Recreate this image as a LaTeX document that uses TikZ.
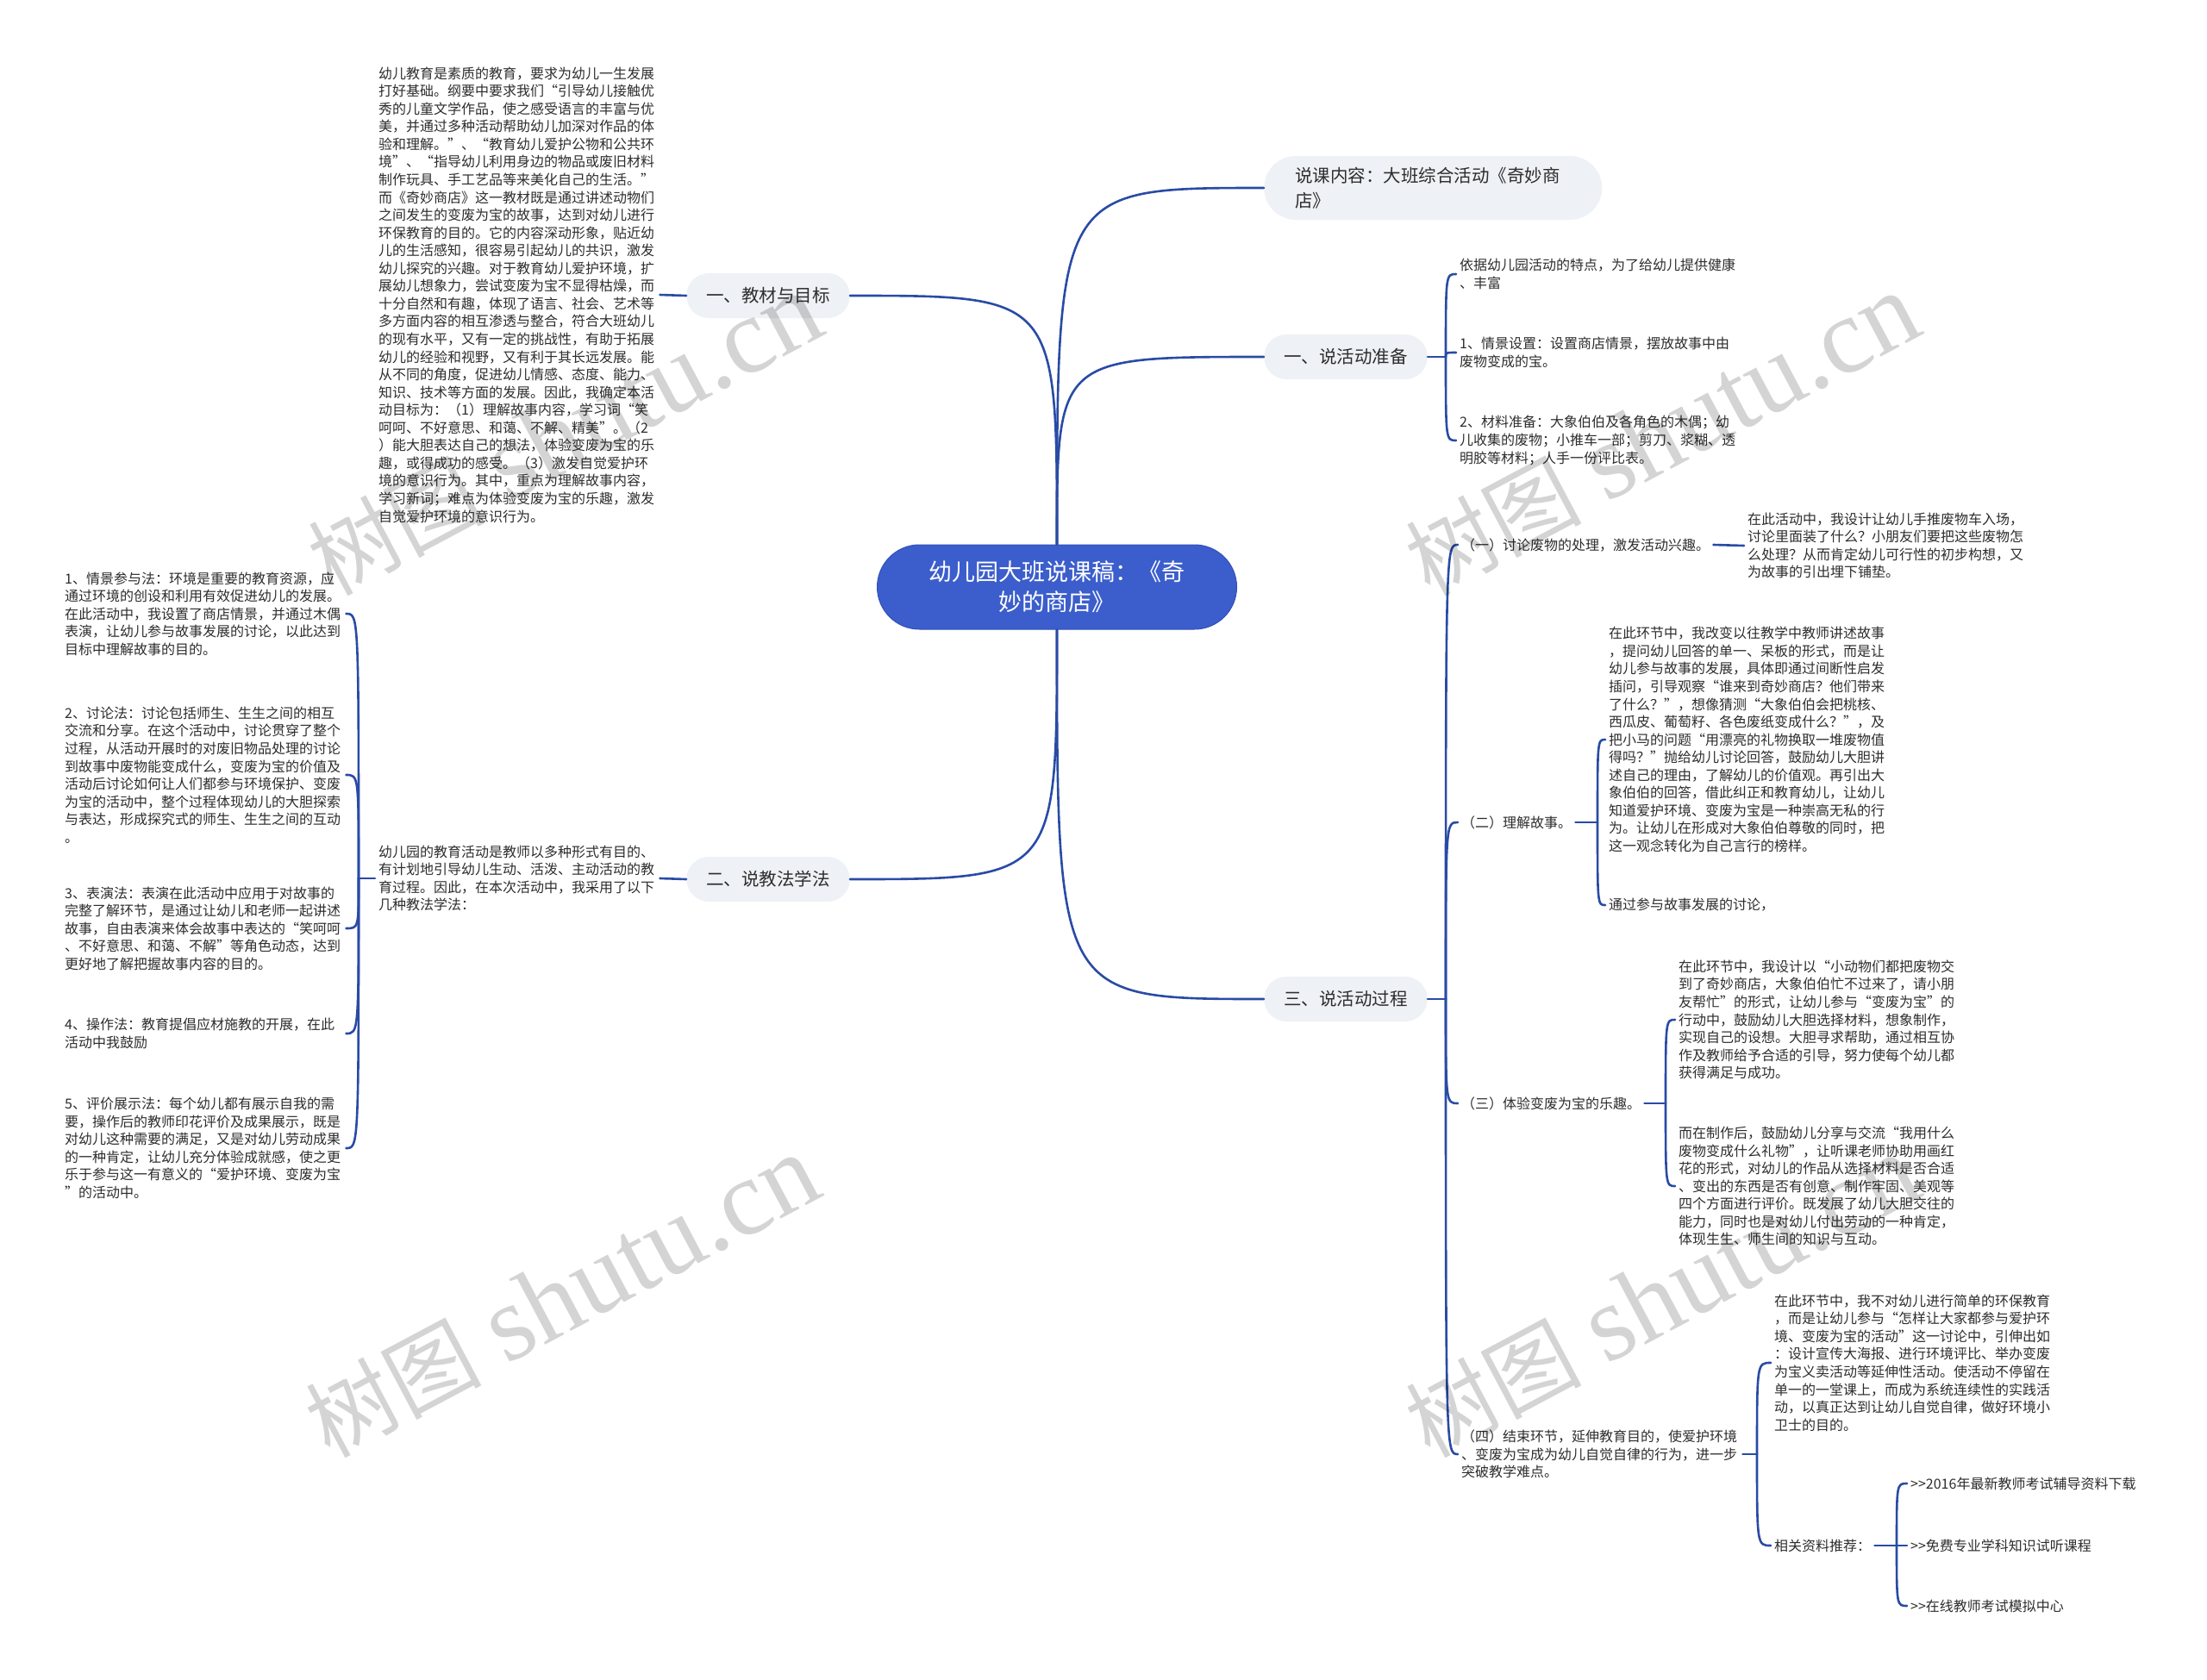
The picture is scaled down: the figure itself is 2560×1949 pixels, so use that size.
\documentclass[tikz,border=0pt]{standalone}
\usepackage{fontspec}
\newfontfamily\cjk{Noto Sans CJK SC}
\newfontfamily\wmfont{Liberation Serif}
\definecolor{linec}{RGB}{41,75,165}
\definecolor{rootfill}{RGB}{60,94,204}
\definecolor{rootdraw}{RGB}{48,80,185}
\definecolor{brfill}{RGB}{238,241,245}
\definecolor{textc}{RGB}{45,45,45}
\begin{document}
\begin{tikzpicture}[x=1pt,y=-1pt,
  conn/.style={draw=linec, line width=2.6pt, line cap=round},
  rootbox/.style={fill=rootfill, draw=rootdraw, line width=1pt, rounded corners=49pt, minimum width=417pt, minimum height=98pt, align=center, text=white, font=\cjk\fontsize{27}{35}\selectfont, inner sep=0pt},
  brbox/.style={fill=brfill, rounded corners=26pt, minimum height=52pt, inner xsep=23pt, inner ysep=0pt, text=textc, font=\cjk\fontsize{20.5}{29}\selectfont},
  para/.style={text width=322pt, align=left, inner xsep=4pt, inner ysep=0pt, text=textc, font=\cjk\fontsize{16}{20.56}\selectfont},
  lab/.style={inner xsep=4pt, inner ysep=3pt, text=textc, font=\cjk\fontsize{16}{20.56}\selectfont},
  wm/.style={rotate=28, text=black, opacity=0.17, inner sep=0pt}
]
\fill[white] (0,0) rectangle (2560,1949);
\useasboundingbox (0,0) rectangle (2560,1949);

% root and main branches
\node[rootbox] (root) at (1226,681) {幼儿园大班说课稿：《奇\\妙的商店》};
\node[brbox, anchor=west, minimum height=74pt, rounded corners=37pt, text width=320pt, inner xsep=36pt, align=left] (b0) at (1466,218) {说课内容：大班综合活动《奇妙商\\店》};
\node[brbox, anchor=west] (b1) at (1466,414) {一、说活动准备};
\node[brbox, anchor=west] (b3) at (1466,1159) {三、说活动过程};
\node[brbox, anchor=east] (bl1) at (986,343) {一、教材与目标};
\node[brbox, anchor=east] (bl2) at (986,1020) {二、说教法学法};

\draw[conn] (root.north) .. controls (root.north |- b0.west) .. (b0.west);
\draw[conn] (root.north) .. controls (root.north |- b1.west) .. (b1.west);
\draw[conn] (root.north) .. controls (root.north |- bl1.east) .. (bl1.east);
\draw[conn] (root.south) .. controls (root.south |- bl2.east) .. (bl2.east);
\draw[conn] (root.south) .. controls (root.south |- b3.west) .. (b3.west);

% left top
\node[para, anchor=west] (t1) at (435,342) {幼儿教育是素质的教育，要求为幼儿一生发展\\
打好基础。纲要中要求我们“引导幼儿接触优\\
秀的儿童文学作品，使之感受语言的丰富与优\\
美，并通过多种活动帮助幼儿加深对作品的体\\
验和理解。”、“教育幼儿爱护公物和公共环\\
境”、“指导幼儿利用身边的物品或废旧材料\\
制作玩具、手工艺品等来美化自己的生活。”\\
而《奇妙商店》这一教材既是通过讲述动物们\\
之间发生的变废为宝的故事，达到对幼儿进行\\
环保教育的目的。它的内容深动形象，贴近幼\\
儿的生活感知，很容易引起幼儿的共识，激发\\
幼儿探究的兴趣。对于教育幼儿爱护环境，扩\\
展幼儿想象力，尝试变废为宝不显得枯燥，而\\
十分自然和有趣，体现了语言、社会、艺术等\\
多方面内容的相互渗透与整合，符合大班幼儿\\
的现有水平，又有一定的挑战性，有助于拓展\\
幼儿的经验和视野，又有利于其长远发展。能\\
从不同的角度，促进幼儿情感、态度、能力、\\
知识、技术等方面的发展。因此，我确定本活\\
动目标为：（1）理解故事内容，学习词“笑\\
呵呵、不好意思、和蔼、不解、精美”。（2\\
）能大胆表达自己的想法，体验变废为宝的乐\\
趣，或得成功的感受。（3）激发自觉爱护环\\
境的意识行为。其中，重点为理解故事内容，\\
学习新词；难点为体验变废为宝的乐趣，激发\\
自觉爱护环境的意识行为。};
\draw[conn] (bl1.west) -- (t1.east);

% left bottom
\node[para, anchor=west] (t2) at (435,1019) {幼儿园的教育活动是教师以多种形式有目的、\\
有计划地引导幼儿生动、活泼、主动活动的教\\
育过程。因此，在本次活动中，我采用了以下\\
几种教法学法：};
\draw[conn] (bl2.west) -- (t2.east);

\node[para, anchor=west] (m1) at (71,712) {1、情景参与法：环境是重要的教育资源，应\\
通过环境的创设和利用有效促进幼儿的发展。\\
在此活动中，我设置了商店情景，并通过木偶\\
表演，让幼儿参与故事发展的讨论，以此达到\\
目标中理解故事的目的。};
\node[para, anchor=west] (m2) at (71,899) {2、讨论法：讨论包括师生、生生之间的相互\\
交流和分享。在这个活动中，讨论贯穿了整个\\
过程，从活动开展时的对废旧物品处理的讨论\\
到故事中废物能变成什么，变废为宝的价值及\\
活动后讨论如何让人们都参与环境保护、变废\\
为宝的活动中，整个过程体现幼儿的大胆探索\\
与表达，形成探究式的师生、生生之间的互动\\
。};
\node[para, anchor=west] (m3) at (71,1077) {3、表演法：表演在此活动中应用于对故事的\\
完整了解环节，是通过让幼儿和老师一起讲述\\
故事，自由表演来体会故事中表达的“笑呵呵\\
、不好意思、和蔼、不解”等角色动态，达到\\
更好地了解把握故事内容的目的。};
\node[para, anchor=west] (m4) at (71,1199) {4、操作法：教育提倡应材施教的开展，在此\\
活动中我鼓励};
\node[para, anchor=west] (m5) at (71,1332) {5、评价展示法：每个幼儿都有展示自我的需\\
要，操作后的教师印花评价及成果展示，既是\\
对幼儿这种需要的满足，又是对幼儿劳动成果\\
的一种肯定，让幼儿充分体验成就感，使之更\\
乐于参与这一有意义的“爱护环境、变废为宝\\
”的活动中。};
\coordinate (kL) at (416,1019);
\draw[conn] (t2.west) -- (kL);
\foreach \n in {m1,m2,m3,m4,m5}
  \draw[conn] (kL) .. controls (kL |- \n.east) .. (\n.east);

% right: 说活动准备
\node[para, anchor=west] (r1) at (1689,318) {依据幼儿园活动的特点，为了给幼儿提供健康\\
、丰富};
\node[para, anchor=west] (r2) at (1689,409) {1、情景设置：设置商店情景，摆放故事中由\\
废物变成的宝。};
\node[para, anchor=west] (r3) at (1689,511) {2、材料准备：大象伯伯及各角色的木偶；幼\\
儿收集的废物；小推车一部；剪刀、浆糊、透\\
明胶等材料；人手一份评比表。};
\coordinate (k1) at (1677,414);
\draw[conn] (b1.east) -- (k1);
\foreach \n in {r1,r2,r3}
  \draw[conn] (k1) .. controls (k1 |- \n.west) .. (\n.west);

% right: 说活动过程
\node[lab, anchor=west] (s1) at (1691,632) {（一）讨论废物的处理，激发活动兴趣。};
\node[lab, anchor=west] (s2) at (1691,954) {（二）理解故事。};
\node[lab, anchor=west] (s3) at (1691,1280) {（三）体验变废为宝的乐趣。};
\node[para, anchor=west] (s4) at (1691,1687) {（四）结束环节，延伸教育目的，使爱护环境\\
、变废为宝成为幼儿自觉自律的行为，进一步\\
突破教学难点。};
\coordinate (k3) at (1677,1159);
\draw[conn] (b3.east) -- (k3);
\foreach \n in {s1,s2,s3,s4}
  \draw[conn] (k3) .. controls (k3 |- \n.west) .. (\n.west);

\node[para, anchor=west] (s1a) at (2023,633) {在此活动中，我设计让幼儿手推废物车入场，\\
讨论里面装了什么？小朋友们要把这些废物怎\\
么处理？从而肯定幼儿可行性的初步构想，又\\
为故事的引出埋下铺垫。};
\draw[conn] (s1.east) -- (s1a.west);

\node[para, anchor=west] (s2a) at (1862,858) {在此环节中，我改变以往教学中教师讲述故事\\
，提问幼儿回答的单一、呆板的形式，而是让\\
幼儿参与故事的发展，具体即通过间断性启发\\
插问，引导观察“谁来到奇妙商店？他们带来\\
了什么？”，想像猜测“大象伯伯会把桃核、\\
西瓜皮、葡萄籽、各色废纸变成什么？”，及\\
把小马的问题“用漂亮的礼物换取一堆废物值\\
得吗？”抛给幼儿讨论回答，鼓励幼儿大胆讲\\
述自己的理由，了解幼儿的价值观。再引出大\\
象伯伯的回答，借此纠正和教育幼儿，让幼儿\\
知道爱护环境、变废为宝是一种崇高无私的行\\
为。让幼儿在形成对大象伯伯尊敬的同时，把\\
这一观念转化为自己言行的榜样。};
\node[lab, anchor=west] (s2b) at (1862,1050) {通过参与故事发展的讨论，};
\coordinate (k4) at (1853,954);
\draw[conn] (s2.east) -- (k4);
\foreach \n in {s2a,s2b}
  \draw[conn] (k4) .. controls (k4 |- \n.west) .. (\n.west);

\node[para, anchor=west] (s3a) at (1943,1183) {在此环节中，我设计以“小动物们都把废物交\\
到了奇妙商店，大象伯伯忙不过来了，请小朋\\
友帮忙”的形式，让幼儿参与“变废为宝”的\\
行动中，鼓励幼儿大胆选择材料，想象制作，\\
实现自己的设想。大胆寻求帮助，通过相互协\\
作及教师给予合适的引导，努力使每个幼儿都\\
获得满足与成功。};
\node[para, anchor=west] (s3b) at (1943,1376) {而在制作后，鼓励幼儿分享与交流“我用什么\\
废物变成什么礼物”，让听课老师协助用画红\\
花的形式，对幼儿的作品从选择材料是否合适\\
、变出的东西是否有创意、制作牢固、美观等\\
四个方面进行评价。既发展了幼儿大胆交往的\\
能力，同时也是对幼儿付出劳动的一种肯定，\\
体现生生、师生间的知识与互动。};
\coordinate (k5) at (1932,1280);
\draw[conn] (s3.east) -- (k5);
\foreach \n in {s3a,s3b}
  \draw[conn] (k5) .. controls (k5 |- \n.west) .. (\n.west);

\node[para, anchor=west] (s4a) at (2054,1581) {在此环节中，我不对幼儿进行简单的环保教育\\
，而是让幼儿参与“怎样让大家都参与爱护环\\
境、变废为宝的活动”这一讨论中，引伸出如\\
：设计宣传大海报、进行环境评比、举办变废\\
为宝义卖活动等延伸性活动。使活动不停留在\\
单一的一堂课上，而成为系统连续性的实践活\\
动，以真正达到让幼儿自觉自律，做好环境小\\
卫士的目的。};
\node[lab, anchor=west] (s4b) at (2054,1793) {相关资料推荐：};
\coordinate (k6) at (2038,1687);
\draw[conn] (s4.east) -- (k6);
\foreach \n in {s4a,s4b}
  \draw[conn] (k6) .. controls (k6 |- \n.west) .. (\n.west);

\node[lab, anchor=west] (q1) at (2212,1721) {>{}>2016年最新教师考试辅导资料下载};
\node[lab, anchor=west] (q2) at (2212,1793) {>{}>免费专业学科知识试听课程};
\node[lab, anchor=west] (q3) at (2212,1863) {>{}>在线教师考试模拟中心};
\coordinate (k7) at (2200,1793);
\draw[conn] (s4b.east) -- (k7);
\foreach \n in {q1,q2,q3}
  \draw[conn] (k7) .. controls (k7 |- \n.west) .. (\n.west);

% watermarks
\foreach \wx/\wy [count=\i] in {655/505, 1928/505, 652/1505, 1928/1505}
  \node[wm] (wm\i) at (\wx,\wy) {{\cjk\fontsize{102}{102}\selectfont 树图}\hspace{28pt}{\wmfont\fontsize{125}{125}\selectfont shutu.cn}};
\end{tikzpicture}
\end{document}
